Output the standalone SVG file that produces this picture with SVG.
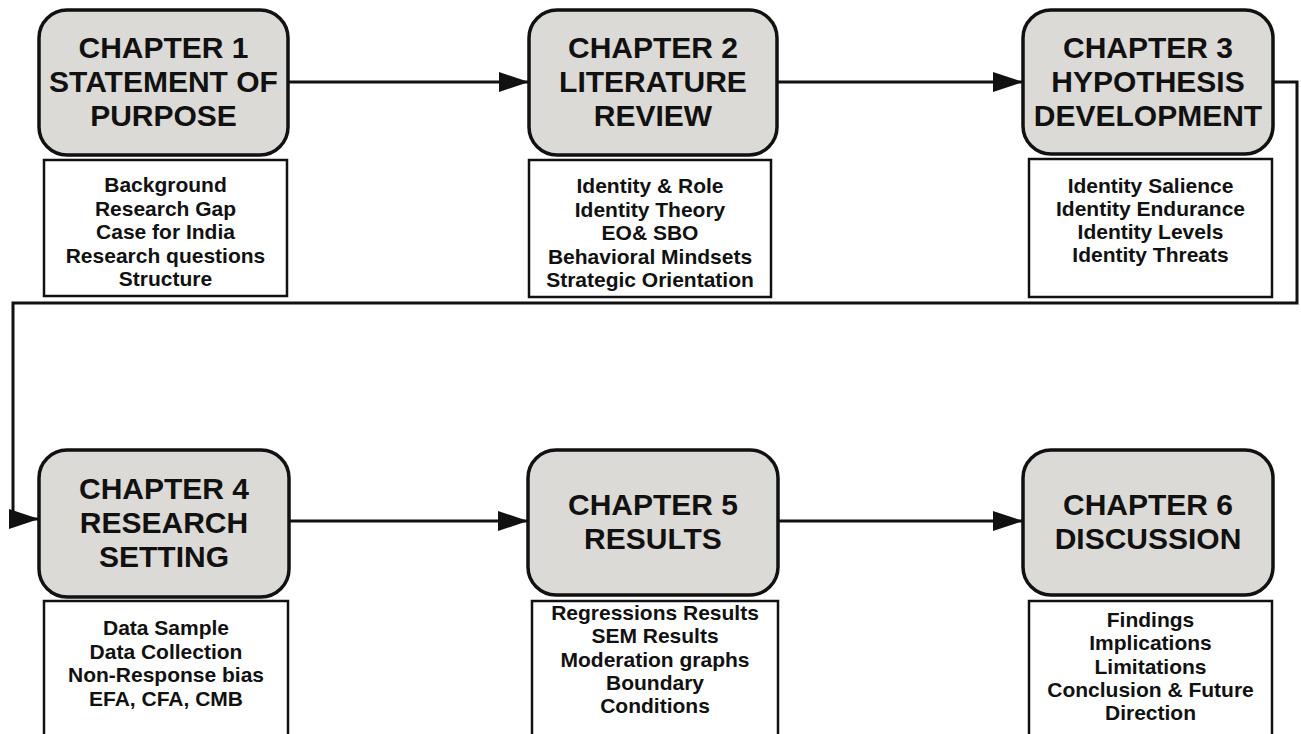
<svg xmlns="http://www.w3.org/2000/svg" width="1301" height="734" viewBox="0 0 1301 734">
  <style>
    .head { fill: #dcdad6; stroke: #111; stroke-width: 3.5; }
    .sub { fill: #fff; stroke: #111; stroke-width: 2.5; }
    .ht { font-family: "Liberation Sans", Arial, sans-serif; font-weight: bold; font-size: 30px; fill: #111; text-anchor: middle; }
    .st { font-family: "Liberation Sans", Arial, sans-serif; font-weight: bold; font-size: 21px; fill: #111; text-anchor: middle; }
    .link { fill: none; stroke: #111; stroke-width: 3; }
  </style>
  <defs>
    <marker id="arrow" markerUnits="userSpaceOnUse" markerWidth="30" markerHeight="20" refX="30" refY="10" orient="auto">
      <path d="M0,0 L30,10 L0,20 z" fill="#111"/>
    </marker>
  </defs>
  <rect width="1301" height="734" fill="#fff"/>

  <!-- connectors -->
  <g id="connectors">
    <path class="link" d="M288,82 H529" marker-end="url(#arrow)"/>
    <path class="link" d="M777,82 H1023" marker-end="url(#arrow)"/>
    <path class="link" d="M1273,82 H1297 V303 H13 V519 H39" marker-end="url(#arrow)"/>
    <path class="link" d="M289,521 H528" marker-end="url(#arrow)"/>
    <path class="link" d="M778,521 H1023" marker-end="url(#arrow)"/>
  </g>

  <!-- chapter 1 -->
  <g id="chapter1">
    <rect class="head" x="39" y="10" width="249" height="145" rx="28"/>
    <text class="ht" x="163.5" y="58">CHAPTER 1</text>
    <text class="ht" x="163.5" y="92">STATEMENT OF</text>
    <text class="ht" x="163.5" y="126">PURPOSE</text>
    <rect class="sub" x="44" y="160" width="243" height="136"/>
    <text class="st" x="165.5" y="192">Background</text>
    <text class="st" x="165.5" y="215.5">Research Gap</text>
    <text class="st" x="165.5" y="239">Case for India</text>
    <text class="st" x="165.5" y="262.5">Research questions</text>
    <text class="st" x="165.5" y="286">Structure</text>
  </g>

  <!-- chapter 2 -->
  <g id="chapter2">
    <rect class="head" x="529" y="10" width="248" height="145" rx="28"/>
    <text class="ht" x="653" y="58">CHAPTER 2</text>
    <text class="ht" x="653" y="92">LITERATURE</text>
    <text class="ht" x="653" y="126">REVIEW</text>
    <rect class="sub" x="529" y="160" width="242" height="137"/>
    <text class="st" x="650" y="193">Identity &amp; Role</text>
    <text class="st" x="650" y="216.5">Identity Theory</text>
    <text class="st" x="650" y="240">EO&amp; SBO</text>
    <text class="st" x="650" y="263.5">Behavioral Mindsets</text>
    <text class="st" x="650" y="287">Strategic Orientation</text>
  </g>

  <!-- chapter 3 -->
  <g id="chapter3">
    <rect class="head" x="1023" y="10" width="250" height="144" rx="28"/>
    <text class="ht" x="1148" y="58">CHAPTER 3</text>
    <text class="ht" x="1148" y="92">HYPOTHESIS</text>
    <text class="ht" x="1148" y="126">DEVELOPMENT</text>
    <rect class="sub" x="1029" y="159" width="243" height="138"/>
    <text class="st" x="1150.5" y="193">Identity Salience</text>
    <text class="st" x="1150.5" y="216">Identity Endurance</text>
    <text class="st" x="1150.5" y="239">Identity Levels</text>
    <text class="st" x="1150.5" y="262">Identity Threats</text>
  </g>

  <!-- chapter 4 -->
  <g id="chapter4">
    <rect class="head" x="39" y="450" width="250" height="147" rx="28"/>
    <text class="ht" x="164" y="499">CHAPTER 4</text>
    <text class="ht" x="164" y="533">RESEARCH</text>
    <text class="ht" x="164" y="567">SETTING</text>
    <rect class="sub" x="44" y="601" width="244" height="150"/>
    <text class="st" x="166" y="635">Data Sample</text>
    <text class="st" x="166" y="658.5">Data Collection</text>
    <text class="st" x="166" y="682">Non-Response bias</text>
    <text class="st" x="166" y="705.5">EFA, CFA, CMB</text>
  </g>

  <!-- chapter 5 -->
  <g id="chapter5">
    <rect class="head" x="528" y="450" width="250" height="145" rx="28"/>
    <text class="ht" x="653" y="515">CHAPTER 5</text>
    <text class="ht" x="653" y="549">RESULTS</text>
    <rect class="sub" x="532" y="601" width="246" height="150"/>
    <text class="st" x="655" y="620">Regressions Results</text>
    <text class="st" x="655" y="643.3">SEM Results</text>
    <text class="st" x="655" y="666.6">Moderation graphs</text>
    <text class="st" x="655" y="690">Boundary</text>
    <text class="st" x="655" y="713.3">Conditions</text>
  </g>

  <!-- chapter 6 -->
  <g id="chapter6">
    <rect class="head" x="1023" y="450" width="250" height="145" rx="28"/>
    <text class="ht" x="1148" y="515">CHAPTER 6</text>
    <text class="ht" x="1148" y="549">DISCUSSION</text>
    <rect class="sub" x="1029" y="601" width="243" height="150"/>
    <text class="st" x="1150.5" y="627">Findings</text>
    <text class="st" x="1150.5" y="650.3">Implications</text>
    <text class="st" x="1150.5" y="673.6">Limitations</text>
    <text class="st" x="1150.5" y="697">Conclusion &amp; Future</text>
    <text class="st" x="1150.5" y="720">Direction</text>
  </g>
</svg>
